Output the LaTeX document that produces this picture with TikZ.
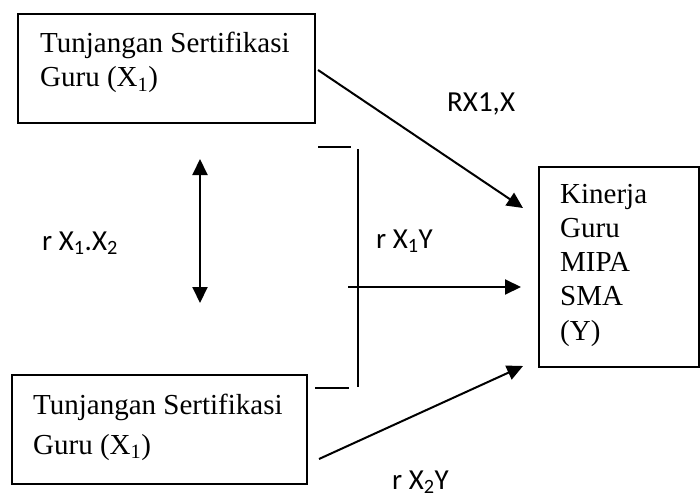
\documentclass[tikz,border=0pt]{standalone}
\usepackage{fontspec}
\setmainfont{Liberation Serif}
\newfontfamily\calfont{Carlito}
\usetikzlibrary{arrows.meta}
\tikzset{
  boxnode/.style={draw, line width=2pt, rectangle, inner sep=0pt},
  txt/.style={anchor=base west, inner sep=0pt, font=\fontsize{29}{34}\selectfont},
  lbl/.style={anchor=base west, inner sep=0pt, font=\calfont\fontsize{29}{34}\selectfont},
  conn/.style={line width=2pt, -{Triangle[length=16pt,width=15pt]}},
  dconn/.style={line width=2pt, {Triangle[length=16pt,width=15pt]}-{Triangle[length=16pt,width=15pt]}},
  brk/.style={line width=1.8pt}
}
\begin{document}
\begin{tikzpicture}[x=1pt,y=-1pt]
\useasboundingbox (0,0) rectangle (700,500);
% boxes
\node[boxnode, minimum width=297pt, minimum height=109pt] (x1) at (166.5,68.5) {};
\node[boxnode, minimum width=295pt, minimum height=109pt] (x2) at (159.5,429.5) {};
\node[boxnode, minimum width=160pt, minimum height=200pt] (y) at (619,267) {};
% box texts
\node[txt] (x1a) at (40,53) {Tunjangan Sertifikasi};
\node[txt] (x1b) at (40,87) {Guru (X\textsubscript{1})};
\node[txt] (x2a) at (33,414) {Tunjangan Sertifikasi};
\node[txt] (x2b) at (33,454) {Guru (X\textsubscript{1})};
\node[txt] (ya) at (560,203) {Kinerja};
\node[txt] (yb) at (560,237) {Guru};
\node[txt] (yc) at (560,271) {MIPA};
\node[txt] (yd) at (560,305) {SMA};
\node[txt] (ye) at (560,340) {(Y)};
% labels
\node[lbl] (l1) at (447,111) {RX1,X};
\node[lbl] (l2) at (42,250) {r X\textsubscript{1}.X\textsubscript{2}};
\node[lbl] (l3) at (376,248) {r X\textsubscript{1}Y};
\node[lbl] (l4) at (392,489) {r X\textsubscript{2}Y};
% connector end points
\coordinate (a1s) at (318,70);
\coordinate (a1e) at (523,208);
\coordinate (a2s) at (348,287);
\coordinate (a2e) at (521,287);
\coordinate (a3s) at (319,459);
\coordinate (a3e) at (523,366);
\coordinate (dtop) at (200,159);
\coordinate (dbot) at (200,303);
% bracket
\coordinate (b1) at (318,147);
\coordinate (b2) at (351,147);
\coordinate (b3) at (358,149);
\coordinate (b4) at (358,387);
\coordinate (b5) at (315,388);
\coordinate (b6) at (349,388);
\draw[brk] (b1) -- (b2);
\draw[brk] (b3) -- (b4);
\draw[brk] (b5) -- (b6);
% arrows
\draw[conn] (a1s) -- (a1e);
\draw[conn] (a2s) -- (a2e);
\draw[conn] (a3s) -- (a3e);
\draw[dconn] (dbot) -- (dtop);
\end{tikzpicture}
\end{document}
